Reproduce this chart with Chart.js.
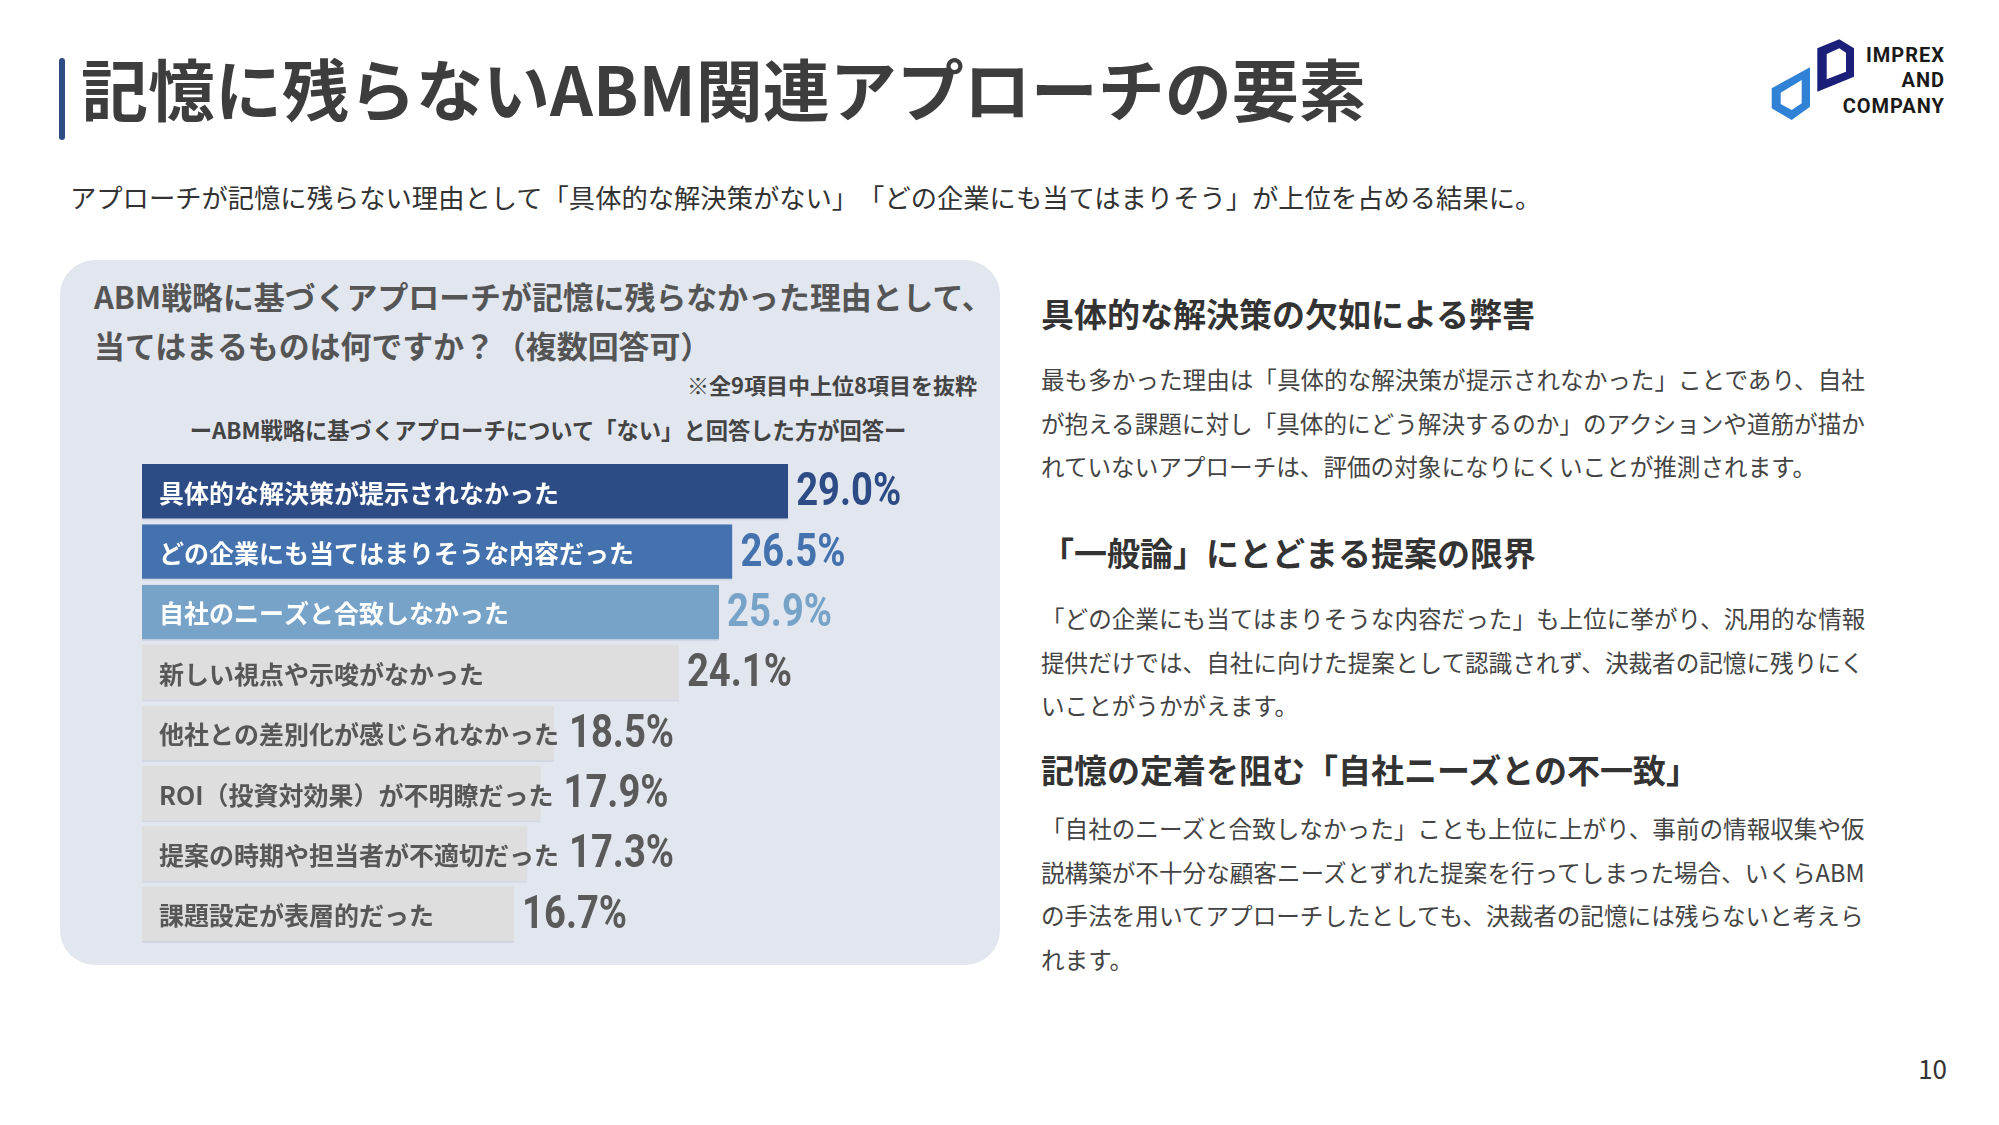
<!DOCTYPE html>
<html lang="ja">
<head>
<meta charset="utf-8">
<script src="https://cdn.jsdelivr.net/npm/chart.js@4.4.1/dist/chart.umd.min.js"></script>
<style>
  html, body { margin:0; padding:0; background:#ffffff; }
  body { width:1999px; height:1125px; position:relative; overflow:hidden;
         font-family:"Noto Sans CJK JP","Noto Sans",sans-serif; text-spacing-trim:space-all; }
  .abs { position:absolute; white-space:nowrap; }
  #titlebar { left:59px; top:58px; width:6px; height:82px; background:#2d4b85; border-radius:3px; }
  #title { left:81px; top:45px; font-size:67px; line-height:84px; font-weight:700; color:#3d3d3d; }
  #subtitle { left:70px; top:179px; font-size:26.3px; line-height:36px; color:#333; }
  #panel { left:60px; top:260px; width:940px; height:705px; background:#e1e6ef; border-radius:35px; }
  #question { left:94px; top:271px; font-size:30.9px; line-height:49px; font-weight:700; color:#555; }
  #note { right:1022px; top:370px; font-size:22px; line-height:28px; font-weight:700; color:#444; }
  #subnote { left:548px; top:415px; transform:translateX(-50%); font-size:22.3px; line-height:28px; font-weight:700; color:#444; }
  #chartbox { left:142px; top:462px; width:850px; height:483px; }
  .h { left:1041px; font-size:33px; line-height:44px; font-weight:700; color:#333; }
  .p { left:1041px; font-size:23.6px; line-height:43.7px; color:#444; }
  #pagenum { right:52px; top:1052px; font-size:26px; line-height:32px; color:#333; }
  #logo { left:1760px; top:30px; width:220px; height:110px; }
  .lg { right:54px; font-family:Roboto,"Liberation Sans",sans-serif; font-weight:700; font-size:20px; line-height:22px; color:#1a1a1a; letter-spacing:1px; }
</style>
</head>
<body>
<div class="abs" id="titlebar"></div>
<div class="abs" id="title">記憶に残らないABM関連アプローチの要素</div>
<div class="abs" id="subtitle">アプローチが記憶に残らない理由として「具体的な解決策がない」「どの企業にも当てはまりそう」が上位を占める結果に。</div>

<svg class="abs" id="logo" viewBox="0 0 220 110" xmlns="http://www.w3.org/2000/svg">
  <path fill="#1b1f7a" fill-rule="evenodd" d="M57.3 18.3 L79.3 9.3 L94 18.3 L94 46.7 L57.3 61.7 Z M66.7 24 L79.3 18.3 L86 22.7 L86 41.7 L66.7 49.3 Z"/>
  <path fill="#2f82d6" fill-rule="evenodd" d="M11.7 58.3 L50 37.3 L50 76.7 L31.7 90 L11.7 78.3 Z M20.7 62.7 L41.7 50 L41.7 73.3 L31.7 80 L20.7 74 Z"/>
</svg>
<div class="abs lg" style="top:44px;">IMPREX</div>
<div class="abs lg" style="top:69px;">AND</div>
<div class="abs lg" style="top:95px;">COMPANY</div>

<div class="abs" id="panel"></div>
<div class="abs" id="question">ABM戦略に基づくアプローチが記憶に残らなかった理由として、<br>当てはまるものは何ですか？（複数回答可）</div>
<div class="abs" id="note">※全9項目中上位8項目を抜粋</div>
<div class="abs" id="subnote">ーABM戦略に基づくアプローチについて「ない」と回答した方が回答ー</div>
<div class="abs" id="chartbox"><canvas id="c"></canvas></div>

<div class="abs h" style="top:291px;">具体的な解決策の欠如による弊害</div>
<div class="abs p" style="top:358px;">最も多かった理由は「具体的な解決策が提示されなかった」ことであり、自社<br>が抱える課題に対し「具体的にどう解決するのか」のアクションや道筋が描か<br>れていないアプローチは、評価の対象になりにくいことが推測されます。</div>

<div class="abs h" style="top:530px;">「一般論」にとどまる提案の限界</div>
<div class="abs p" style="top:597px;">「どの企業にも当てはまりそうな内容だった」も上位に挙がり、汎用的な情報<br>提供だけでは、自社に向けた提案として認識されず、決裁者の記憶に残りにく<br>いことがうかがえます。</div>

<div class="abs h" style="top:747px;">記憶の定着を阻む「自社ニーズとの不一致」</div>
<div class="abs p" style="top:807px;">「自社のニーズと合致しなかった」ことも上位に上がり、事前の情報収集や仮<br>説構築が不十分な顧客ニーズとずれた提案を行ってしまった場合、いくらABM<br>の手法を用いてアプローチしたとしても、決裁者の記憶には残らないと考えら<br>れます。</div>

<div class="abs" id="pagenum">10</div>

<script>
// ---- data ----
const categories = [
  "具体的な解決策が提示されなかった",
  "どの企業にも当てはまりそうな内容だった",
  "自社のニーズと合致しなかった",
  "新しい視点や示唆がなかった",
  "他社との差別化が感じられなかった",
  "ROI（投資対効果）が不明瞭だった",
  "提案の時期や担当者が不適切だった",
  "課題設定が表層的だった"
];
const values = [29.0, 26.5, 25.9, 24.1, 18.5, 17.9, 17.3, 16.7];
const valueLabels = ["29.0%", "26.5%", "25.9%", "24.1%", "18.5%", "17.9%", "17.3%", "16.7%"];

// ---- styles ----
const barColors = ["#2d4b85", "#4472ae", "#78a3c8", "#dedede", "#dedede", "#dedede", "#dedede", "#dedede"];
const labelColors = ["#ffffff", "#ffffff", "#ffffff", "#575757", "#575757", "#575757", "#575757", "#575757"];
const valueColors = ["#2d4b85", "#4472ae", "#78a3c8", "#5a5a5a", "#5a5a5a", "#5a5a5a", "#5a5a5a", "#5a5a5a"];

const labelPlugin = {
  id: "barLabels",
  afterDatasetsDraw(chart) {
    const ctx = chart.ctx;
    const meta = chart.getDatasetMeta(0);
    const left = chart.chartArea.left;
    ctx.save();
    meta.data.forEach((bar, i) => {
      const p = bar.getProps(["x", "y", "base", "height"], true);
      // category label inside bar
      ctx.font = '700 25px "Noto Sans CJK JP", sans-serif';
      ctx.fillStyle = labelColors[i];
      ctx.textBaseline = "middle";
      ctx.textAlign = "left";
      const lx = left + 17;
      ctx.fillText(categories[i], lx, p.y + 1);
      const labelEnd = lx + ctx.measureText(categories[i]).width;
      // value label after bar (or after label if label overflows)
      const vx = Math.max(p.x + 8, labelEnd + 10);
      ctx.save();
      ctx.translate(vx, p.y + 13);
      ctx.scale(0.83, 1);
      ctx.textBaseline = "alphabetic";
      ctx.font = '700 46px Roboto, "Liberation Sans", sans-serif';
      ctx.fillStyle = valueColors[i];
      ctx.fillText(valueLabels[i], 0, 0);
      ctx.restore();
    });
    ctx.restore();
  }
};

new Chart(document.getElementById("c"), {
  type: "bar",
  data: {
    labels: categories,
    datasets: [{
      data: values,
      backgroundColor: barColors,
      borderColor: "#d2d8e3",
      borderWidth: { top: 0, left: 0, right: 0, bottom: 2 },
      borderSkipped: false,
      barPercentage: 1.0,
      categoryPercentage: 0.935
    }]
  },
  options: {
    indexAxis: "y",
    responsive: true,
    maintainAspectRatio: false,
    animation: false,
    layout: { padding: 0 },
    plugins: { legend: { display: false }, tooltip: { enabled: false } },
    scales: {
      x: { display: false, min: 0, max: 38.15 },
      y: { display: false }
    }
  },
  plugins: [labelPlugin]
});
</script>
</body>
</html>
